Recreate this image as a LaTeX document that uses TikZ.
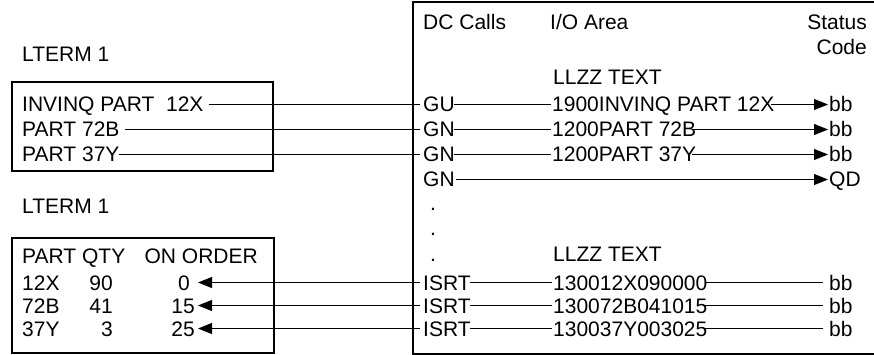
\documentclass[tikz,border=0pt]{standalone}
\usepackage{fontspec}
\setmainfont{Liberation Sans}
\usetikzlibrary{arrows.meta}
\begin{document}
\begin{tikzpicture}[x=1pt,y=-1pt,
  txt/.style={inner sep=0pt, anchor=base west, font=\fontsize{21}{24}\selectfont},
  rtxt/.style={txt, anchor=base east},
  conn/.style={line width=1.1pt},
  arr/.style={conn, -{Triangle[length=14pt,width=11pt]}},
  box/.style={draw, line width=1.2pt}]
\def\cy{7.5pt}
\useasboundingbox (0,0) rectangle (874,355);
% upper left box
\draw[box] (12,82) rectangle (273,171);
\node[txt] (lt1) at (22,62) {LTERM 1};
\node[txt] (q1) at (22,112) {INVINQ PART\ \ 12X};
\node[txt] (q2) at (22,137) {PART 72B};
\node[txt] (q3) at (22,162) {PART 37Y};
% lower left box
\draw[box] (12,238) rectangle (274,353);
\node[txt] (lt2) at (22,214) {LTERM 1};
\node[txt] (hp) at (22,263) {PART QTY};
\node[rtxt] (ho) at (258,263) {ON ORDER};
\node[txt] (p1) at (22,290) {12X};
\node[rtxt] (n1) at (113,290) {90};
\node[rtxt] (v1) at (190,290) {0};
\node[txt] (p2) at (22,313) {72B};
\node[rtxt] (n2) at (113,313) {41};
\node[rtxt] (v2) at (195,313) {15};
\node[txt] (p3) at (22,336) {37Y};
\node[rtxt] (n3) at (113,336) {3};
\node[rtxt] (v3) at (195,336) {25};
% right box
\draw[box] (880,2) -- (413,2) -- (413,354) -- (880,354);
\node[txt] (dc) at (423,30) {DC Calls};
\node[txt] (io) at (550,30) {I/O Area};
\node[rtxt] (st) at (867,30) {Status};
\node[rtxt] (cd) at (867,55) {Code};
\node[txt] (ll1) at (553,85) {LLZZ TEXT};
\node[txt] (c1) at (423,112) {GU};
\node[txt] (a1) at (552,112) {1900INVINQ PART 12X};
\node[txt] (s1) at (829,112) {bb};
\node[txt] (c2) at (423,137) {GN};
\node[txt] (a2) at (552,137) {1200PART 72B};
\node[txt] (s2) at (829,137) {bb};
\node[txt] (c3) at (423,162) {GN};
\node[txt] (a3) at (552,162) {1200PART 37Y};
\node[txt] (s3) at (829,162) {bb};
\node[txt] (c4) at (423,187) {GN};
\node[txt] (s4) at (829,187) {QD};
\node[txt] (d1) at (430,211) {.};
\node[txt] (d2) at (430,236) {.};
\node[txt] (d3) at (430,261) {.};
\node[txt] (ll2) at (553,261) {LLZZ TEXT};
\node[txt] (i1) at (423,290) {ISRT};
\node[txt] (o1) at (553,290) {130012X090000};
\node[txt] (b1) at (829,290) {bb};
\node[txt] (i2) at (423,313) {ISRT};
\node[txt] (o2) at (553,313) {130072B041015};
\node[txt] (b2) at (829,313) {bb};
\node[txt] (i3) at (423,336) {ISRT};
\node[txt] (o3) at (553,336) {130037Y003025};
\node[txt] (b3) at (829,336) {bb};
% connectors upper
\draw[conn] ([xshift=5pt,yshift=\cy]q1.base east) -- ([xshift=-3pt,yshift=\cy]c1.base west);
\draw[conn] ([xshift=5pt,yshift=\cy]q2.base east) -- ([xshift=-3pt,yshift=\cy]c2.base west);
\draw[conn] ([xshift=-1pt,yshift=\cy]q3.base east) -- ([xshift=-3pt,yshift=\cy]c3.base west);
\draw[conn] ([xshift=-1pt,yshift=\cy]c1.base east) -- ([xshift=-1pt,yshift=\cy]a1.base west);
\draw[conn] ([xshift=-1pt,yshift=\cy]c2.base east) -- ([xshift=-1pt,yshift=\cy]a2.base west);
\draw[conn] ([xshift=-1pt,yshift=\cy]c3.base east) -- ([xshift=-1pt,yshift=\cy]a3.base west);
\draw[arr] ([xshift=-4pt,yshift=\cy]a1.base east) -- ([xshift=-1pt,yshift=\cy]s1.base west);
\draw[arr] ([xshift=-4pt,yshift=\cy]a2.base east) -- ([xshift=-1pt,yshift=\cy]s2.base west);
\draw[arr] ([xshift=-4pt,yshift=\cy]a3.base east) -- ([xshift=-1pt,yshift=\cy]s3.base west);
\draw[arr] ([xshift=1pt,yshift=\cy]c4.base east) -- ([xshift=-1pt,yshift=\cy]s4.base west);
% connectors lower
\draw[conn] ([xshift=-1pt,yshift=\cy]i1.base east) -- ([xshift=-1pt,yshift=\cy]o1.base west);
\draw[conn] ([xshift=-1pt,yshift=\cy]i2.base east) -- ([xshift=-1pt,yshift=\cy]o2.base west);
\draw[conn] ([xshift=-1pt,yshift=\cy]i3.base east) -- ([xshift=-1pt,yshift=\cy]o3.base west);
\draw[conn] ([xshift=-3pt,yshift=\cy]o1.base east) -- ([xshift=-6pt,yshift=\cy]b1.base west);
\draw[conn] ([xshift=-3pt,yshift=\cy]o2.base east) -- ([xshift=-6pt,yshift=\cy]b2.base west);
\draw[conn] ([xshift=-3pt,yshift=\cy]o3.base east) -- ([xshift=-6pt,yshift=\cy]b3.base west);
\draw[arr] ([xshift=-3pt,yshift=\cy]i1.base west) -- ([xshift=8pt,yshift=\cy]v1.base east);
\draw[arr] ([xshift=-3pt,yshift=\cy]i2.base west) -- ([xshift=3pt,yshift=\cy]v2.base east);
\draw[arr] ([xshift=-3pt,yshift=\cy]i3.base west) -- ([xshift=3pt,yshift=\cy]v3.base east);
\end{tikzpicture}
\end{document}
